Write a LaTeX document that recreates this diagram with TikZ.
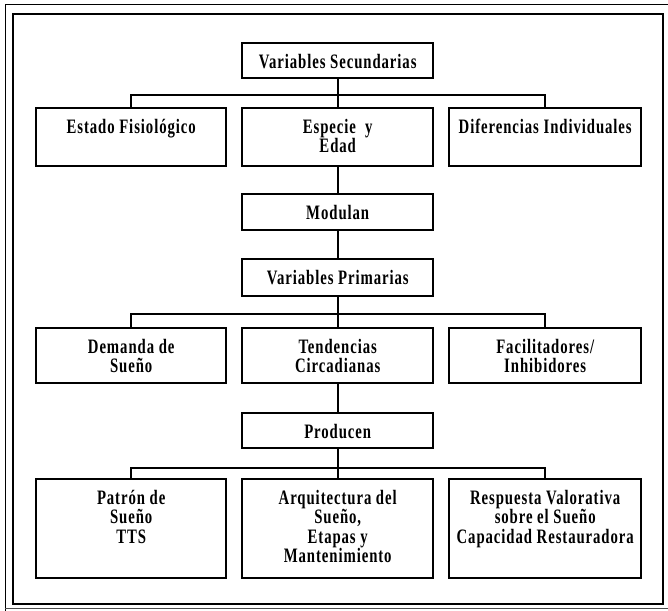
\documentclass[tikz,border=0pt]{standalone}
\usepackage{fontspec}
\setmainfont{Liberation Serif}[FakeStretch=0.72, LetterSpace=4.5]
\newcommand{\bxtext}[3]{\parbox[t][#2][t]{#1}{\centering\rule{0pt}{25pt}#3}}
\begin{document}
\begin{tikzpicture}[x=1pt,y=-1pt,
  bx/.style={draw, line width=2.4pt, inner sep=0pt, anchor=north west,
    font=\fontsize{20.5}{19.5}\selectfont\bfseries},
  conn/.style={line width=2pt},
  frame/.style={line width=1.4pt}]
\useasboundingbox (0,0) rectangle (668,610);
% frames
\draw[frame] (13,14) rectangle (663,604);
\draw[line width=1pt] (5,612) -- (5,5) -- (670,5);
\draw[line width=0.8pt, black!70] (5,608.5) -- (670,608.5);
% row 0
\node[bx] (vs) at (241,42) {\bxtext{191pt}{35pt}{Variables Secundarias}};
% row 1
\node[bx] (estado) at (35,107) {\bxtext{190pt}{58pt}{Estado Fisiológico}};
\node[bx] (especie) at (241,107) {\bxtext{191pt}{58pt}{Especie\ \ y\\Edad}};
\node[bx] (difer) at (448,107) {\bxtext{192pt}{58pt}{Diferencias Individuales}};
% middle
\node[bx] (modulan) at (241,193) {\bxtext{191pt}{36pt}{Modulan}};
\node[bx] (vp) at (241,258) {\bxtext{191pt}{37pt}{Variables Primarias}};
% row 2
\node[bx] (demanda) at (35,327) {\bxtext{190pt}{55pt}{Demanda de\\Sueño}};
\node[bx] (tend) at (241,327) {\bxtext{191pt}{55pt}{Tendencias\\Circadianas}};
\node[bx] (facil) at (448,327) {\bxtext{192pt}{55pt}{Facilitadores/\\Inhibidores}};
\node[bx] (producen) at (241,412) {\bxtext{191pt}{35pt}{Producen}};
% row 3
\node[bx] (patron) at (35,478) {\bxtext{190pt}{99pt}{Patrón de\\Sueño\\TTS}};
\node[bx] (arq) at (241,478) {\bxtext{191pt}{99pt}{Arquitectura del\\Sueño,\\Etapas y\\Mantenimiento}};
\node[bx] (resp) at (448,478) {\bxtext{192pt}{99pt}{Respuesta Valorativa\\sobre el Sueño\\Capacidad Restauradora}};
% connectors
\draw[conn] (vs.south) -- (especie.north);
\draw[conn] (estado.north) -- (estado.north |- 0,95) -- (difer.north |- 0,95) -- (difer.north);
\draw[conn] (especie.south) -- (modulan.north);
\draw[conn] (modulan.south) -- (vp.north);
\draw[conn] (vp.south) -- (tend.north);
\draw[conn] (demanda.north) -- (demanda.north |- 0,314) -- (facil.north |- 0,314) -- (facil.north);
\draw[conn] (tend.south) -- (producen.north);
\draw[conn] (producen.south) -- (arq.north);
\draw[conn] (patron.north) -- (patron.north |- 0,468) -- (resp.north |- 0,468) -- (resp.north);
\end{tikzpicture}
\end{document}
